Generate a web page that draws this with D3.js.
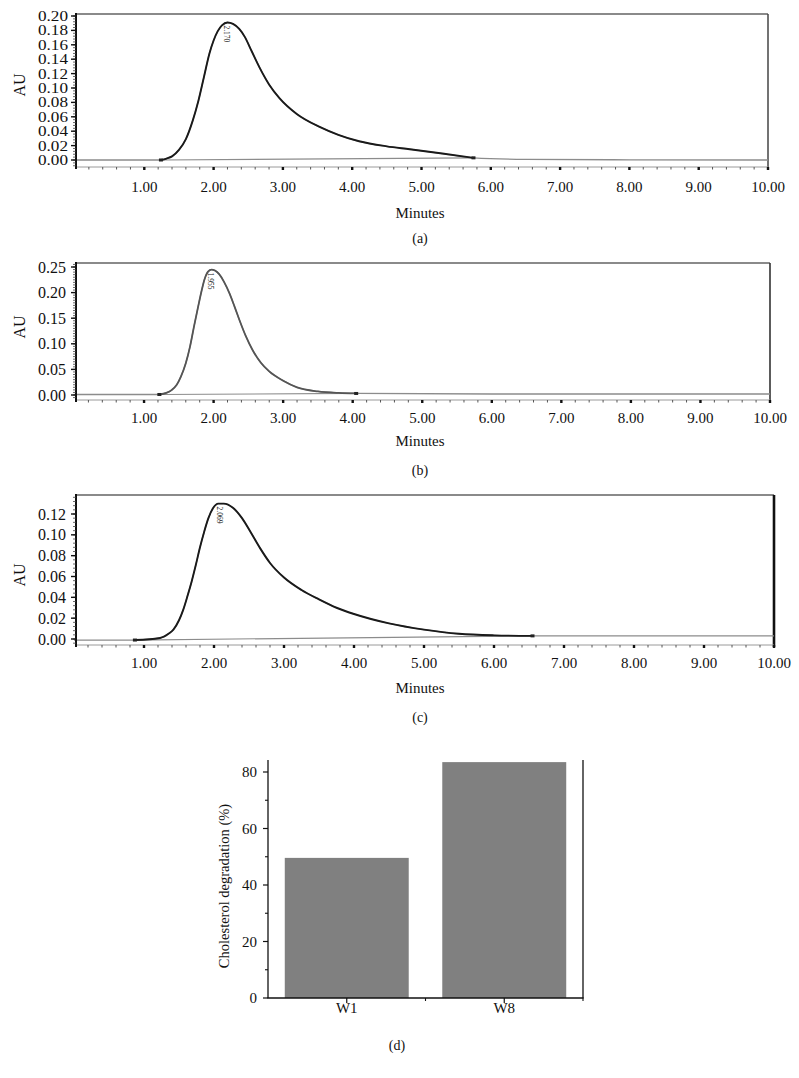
<!DOCTYPE html>
<html><head><meta charset="utf-8">
<script src="https://cdn.jsdelivr.net/npm/d3@7"></script>
<style>
body{margin:0;background:#fff;}
svg{display:block;}
text{font-family:"Liberation Serif","DejaVu Serif","Times New Roman",serif;fill:#111;}
</style>
</head><body>
<svg id="c" width="799" height="1078"></svg>
<script>
// ---------- DATA ----------
// Chromatogram (a)
const timeA = [0, 1.24, 1.32, 1.40, 1.50, 1.60, 1.70, 1.78, 1.86, 1.94, 2.00, 2.06, 2.12, 2.20, 2.28, 2.37, 2.45, 2.55, 2.66, 2.80, 2.95, 3.20, 3.53, 3.80, 4.10, 4.50, 4.83, 5.30, 5.75, 6.50, 8.00, 10.00];
const auA   = [0, 0.000, 0.002, 0.005, 0.014, 0.029, 0.055, 0.082, 0.115, 0.148, 0.166, 0.179, 0.187, 0.191, 0.189, 0.182, 0.171, 0.151, 0.129, 0.105, 0.086, 0.064, 0.046, 0.035, 0.026, 0.019, 0.015, 0.009, 0.003, 0.001, 0.0003, 0.000];
const peakA = [1.24, 5.75];
// Chromatogram (b)
const timeB = [0, 1.22, 1.32, 1.40, 1.47, 1.53, 1.60, 1.66, 1.72, 1.78, 1.83, 1.87, 1.92, 1.97, 2.02, 2.08, 2.15, 2.23, 2.30, 2.37, 2.46, 2.56, 2.68, 2.80, 3.00, 3.20, 3.50, 3.80, 4.05, 6.00, 10.00];
const auB   = [0.001, 0.001, 0.004, 0.010, 0.020, 0.036, 0.062, 0.094, 0.135, 0.174, 0.205, 0.226, 0.241, 0.245, 0.243, 0.236, 0.221, 0.198, 0.173, 0.147, 0.116, 0.088, 0.063, 0.046, 0.028, 0.015, 0.007, 0.004, 0.003, 0.002, 0.002];
const peakB = [1.22, 4.05];
// Chromatogram (c)
const timeC = [0, 0.87, 1.23, 1.35, 1.42, 1.50, 1.56, 1.62, 1.68, 1.74, 1.80, 1.86, 1.92, 1.99, 2.06, 2.14, 2.27, 2.40, 2.52, 2.66, 2.80, 3.00, 3.25, 3.50, 3.75, 4.00, 4.50, 5.00, 5.50, 6.00, 6.55, 10.00];
const auC   = [-0.001, -0.001, 0.001, 0.005, 0.009, 0.018, 0.028, 0.041, 0.055, 0.071, 0.088, 0.103, 0.116, 0.126, 0.130, 0.130, 0.126, 0.116, 0.103, 0.087, 0.073, 0.059, 0.047, 0.038, 0.030, 0.024, 0.015, 0.009, 0.005, 0.0035, 0.003, 0.003];
const peakC = [0.87, 6.55];

const peakLabels = ["2.170", "1.955", "2.069"];
const peakTimes  = [2.20, 1.96, 2.08];

const xTickValues = [1, 2, 3, 4, 5, 6, 7, 8, 9, 10];
const xTickLabels = ["1.00", "2.00", "3.00", "4.00", "5.00", "6.00", "7.00", "8.00", "9.00", "10.00"];
const yTicksA = [0.00, 0.02, 0.04, 0.06, 0.08, 0.10, 0.12, 0.14, 0.16, 0.18, 0.20];
const yTicksB = [0.00, 0.05, 0.10, 0.15, 0.20, 0.25];
const yTicksC = [0.00, 0.02, 0.04, 0.06, 0.08, 0.10, 0.12];
const panelLetters = ["(a)", "(b)", "(c)"];

// Bar chart (d)
const barCategories = ["W1", "W8"];
const barValues = [49.6, 83.5];
const barYTicks = [0, 20, 40, 60, 80];

// ---------- DRAW ----------
const svg = d3.select("#c");

const panels = [
  {t: timeA, v: auA, peak: peakA, ticks: yTicksA, dom: [0, 0.20], yr: [160, 16], xr: [75, 768],
   left: 76, right: 768, top: 14, bottom: 167, minor: 0.004, minorLo: -0.008, minorHi: 0.2,
   labEnd: 68, labFont: 14, labStretch: 30, tickLabY: 192, minutesY: 218, letterY: 243, auY: 85, rightW: 1.5, rightC: "#444", peakCol: "#1a1a1a", peakW: 1.9},
  {t: timeB, v: auB, peak: peakB, ticks: yTicksB, dom: [0, 0.25], yr: [395, 267], xr: [74.5, 770],
   left: 76, right: 770, top: 263, bottom: 400, minor: 0.005, minorLo: -0.005, minorHi: 0.255,
   labEnd: 66, labFont: 16, labStretch: 0, tickLabY: 423, minutesY: 446, letterY: 475, auY: 327, rightW: 1.6, rightC: "#333", peakCol: "#555", peakW: 1.8},
  {t: timeC, v: auC, peak: peakC, ticks: yTicksC, dom: [0, 0.12], yr: [639, 514], xr: [74, 774],
   left: 76, right: 774, top: 495, bottom: 645, minor: 0.004, minorLo: -0.004, minorHi: 0.136,
   labEnd: 66, labFont: 16, labStretch: 0, tickLabY: 668, minutesY: 693, letterY: 722, auY: 575, rightW: 2.6, rightC: "#111", peakCol: "#1a1a1a", peakW: 1.9}
];

panels.forEach((p, i) => {
  const g = svg.append("g");
  const x = d3.scaleLinear().domain([0, 10]).range(p.xr);
  const y = d3.scaleLinear().domain(p.dom).range(p.yr);
  const pts = p.t.map((t, k) => [t, p.v[k]]);
  const line = d3.line().x(d => x(d[0])).y(d => y(d[1])).curve(d3.curveMonotoneX);

  // frame
  g.append("line").attr("x1", p.left).attr("x2", p.right).attr("y1", p.top).attr("y2", p.top)
    .attr("stroke", "#8a8a8a").attr("stroke-width", 1.8);
  g.append("line").attr("x1", p.right).attr("x2", p.right).attr("y1", p.top).attr("y2", p.bottom + 2)
    .attr("stroke", p.rightC).attr("stroke-width", p.rightW);
  g.append("line").attr("x1", p.left).attr("x2", p.right).attr("y1", p.bottom).attr("y2", p.bottom)
    .attr("stroke", "#9a9a9a").attr("stroke-width", 1);

  // full trace (flat part gray)
  g.append("path").datum(pts).attr("d", line).attr("fill", "none")
    .attr("stroke", "#8c8c8c").attr("stroke-width", 1.3);
  // integration baseline
  const vAt = t => { const k = p.t.indexOf(t); return p.v[k]; };
  g.append("line").attr("x1", x(p.peak[0])).attr("y1", y(vAt(p.peak[0])))
    .attr("x2", x(p.peak[1])).attr("y2", y(vAt(p.peak[1])))
    .attr("stroke", "#8c8c8c").attr("stroke-width", 1.2);
  // peak segment
  const seg = pts.filter(d => d[0] >= p.peak[0] && d[0] <= p.peak[1]);
  g.append("path").datum(seg).attr("d", line).attr("fill", "none")
    .attr("stroke", p.peakCol).attr("stroke-width", p.peakW).attr("stroke-linejoin", "round");
  // start / end markers
  p.peak.forEach(t => {
    g.append("rect").attr("x", x(t) - 2).attr("y", y(vAt(t)) - 1.5).attr("width", 4).attr("height", 3)
      .attr("fill", "#222");
  });
  // peak label (rotated)
  const pt = peakTimes[i];
  const pk = d3.max(seg, d => d[1]);
  g.append("text").attr("transform", `translate(${x(pt) - 3},${y(pk) + 3}) rotate(90)`)
    .attr("font-size", 7.5).attr("fill", "#222").text(peakLabels[i]);

  // y axis line
  g.append("line").attr("x1", p.left).attr("x2", p.left).attr("y1", p.top - 1).attr("y2", p.bottom + 2)
    .attr("stroke", "#111").attr("stroke-width", 2);
  // y minor ticks
  d3.range(p.minorLo, p.minorHi + 1e-9, p.minor).forEach(v => {
    g.append("line").attr("x1", p.left - 3).attr("x2", p.left).attr("y1", y(v)).attr("y2", y(v))
      .attr("stroke", "#444").attr("stroke-width", 0.8);
  });
  // y major ticks + labels
  p.ticks.forEach(v => {
    g.append("line").attr("x1", p.left - 5).attr("x2", p.left).attr("y1", y(v)).attr("y2", y(v))
      .attr("stroke", "#111").attr("stroke-width", 1.4);
    const tx = g.append("text").attr("x", p.labEnd).attr("y", y(v)).attr("dy", "0.35em")
      .attr("text-anchor", "end").attr("font-size", p.labFont).text(d3.format(".2f")(v));
    if (p.labStretch) tx.attr("textLength", p.labStretch).attr("lengthAdjust", "spacingAndGlyphs");
  });

  // x minor ticks
  d3.range(0.2, 10.001, 0.2).forEach(t => {
    g.append("line").attr("x1", x(t)).attr("x2", x(t)).attr("y1", p.bottom).attr("y2", p.bottom + 2.5)
      .attr("stroke", "#555").attr("stroke-width", 1);
  });
  // x major ticks + labels
  xTickValues.forEach((t, k) => {
    g.append("rect").attr("x", x(t) - 1.2).attr("y", p.bottom).attr("width", 2.4).attr("height", 3)
      .attr("fill", "#111");
    g.append("text").attr("x", x(t)).attr("y", p.tickLabY).attr("text-anchor", "middle")
      .attr("font-size", 15).text(xTickLabels[k]);
  });

  // titles
  g.append("text").attr("x", 420).attr("y", p.minutesY).attr("text-anchor", "middle")
    .attr("font-size", 15).text("Minutes");
  g.append("text").attr("x", 420).attr("y", p.letterY).attr("text-anchor", "middle")
    .attr("font-size", 14).text(panelLetters[i]);
  g.append("text").attr("transform", `translate(25,${p.auY}) rotate(-90)`).attr("text-anchor", "middle")
    .attr("font-size", 16).text("AU");
});

// ---------- PANEL (d) ----------
const gd = svg.append("g");
const xb = d3.scaleBand().domain(barCategories).range([268, 583]).paddingInner(0.213).paddingOuter(0.1065);
const yb = d3.scaleLinear().domain([0, 80]).range([998, 772]);
const topD = 760;

gd.selectAll("rect.bar").data(barCategories).join("rect").attr("class", "bar")
  .attr("x", d => xb(d)).attr("width", xb.bandwidth())
  .attr("y", (d, k) => yb(barValues[k])).attr("height", (d, k) => yb(0) - yb(barValues[k]))
  .attr("fill", "#808080");

// axes lines
gd.append("line").attr("x1", 268).attr("x2", 268).attr("y1", topD).attr("y2", yb(0))
  .attr("stroke", "#111").attr("stroke-width", 1.3);
gd.append("line").attr("x1", 583).attr("x2", 583).attr("y1", topD).attr("y2", yb(0))
  .attr("stroke", "#111").attr("stroke-width", 1.3);
gd.append("line").attr("x1", 267.4).attr("x2", 583.6).attr("y1", yb(0)).attr("y2", yb(0))
  .attr("stroke", "#111").attr("stroke-width", 1.3);

// y ticks
barYTicks.forEach(v => {
  gd.append("line").attr("x1", 263).attr("x2", 268).attr("y1", yb(v)).attr("y2", yb(v))
    .attr("stroke", "#111").attr("stroke-width", 1.2);
  gd.append("text").attr("x", 257).attr("y", yb(v)).attr("dy", "0.35em").attr("text-anchor", "end")
    .attr("font-size", 15).text(v);
});
barYTicks.slice(0, -1).forEach(v => {
  const m = v + 10;
  gd.append("line").attr("x1", 265).attr("x2", 268).attr("y1", yb(m)).attr("y2", yb(m))
    .attr("stroke", "#111").attr("stroke-width", 1.1);
});
// x ticks
barCategories.forEach(c => {
  const cx = xb(c) + xb.bandwidth() / 2;
  gd.append("line").attr("x1", cx).attr("x2", cx).attr("y1", yb(0)).attr("y2", yb(0) + 5)
    .attr("stroke", "#111").attr("stroke-width", 1.2);
  gd.append("text").attr("x", cx).attr("y", 1013).attr("text-anchor", "middle")
    .attr("font-size", 15).text(c);
});
const bnd = (xb("W1") + xb.bandwidth() / 2 + xb("W8") + xb.bandwidth() / 2) / 2;
[bnd, 583].forEach(bx => {
  gd.append("line").attr("x1", bx).attr("x2", bx).attr("y1", yb(0)).attr("y2", yb(0) + 3)
    .attr("stroke", "#111").attr("stroke-width", 1.1);
});
gd.append("text").attr("transform", "translate(229,886) rotate(-90)").attr("text-anchor", "middle")
  .attr("font-size", 14.5).text("Cholesterol degradation (%)");
gd.append("text").attr("x", 397).attr("y", 1050).attr("text-anchor", "middle")
  .attr("font-size", 14).text("(d)");
</script>
</body></html>
